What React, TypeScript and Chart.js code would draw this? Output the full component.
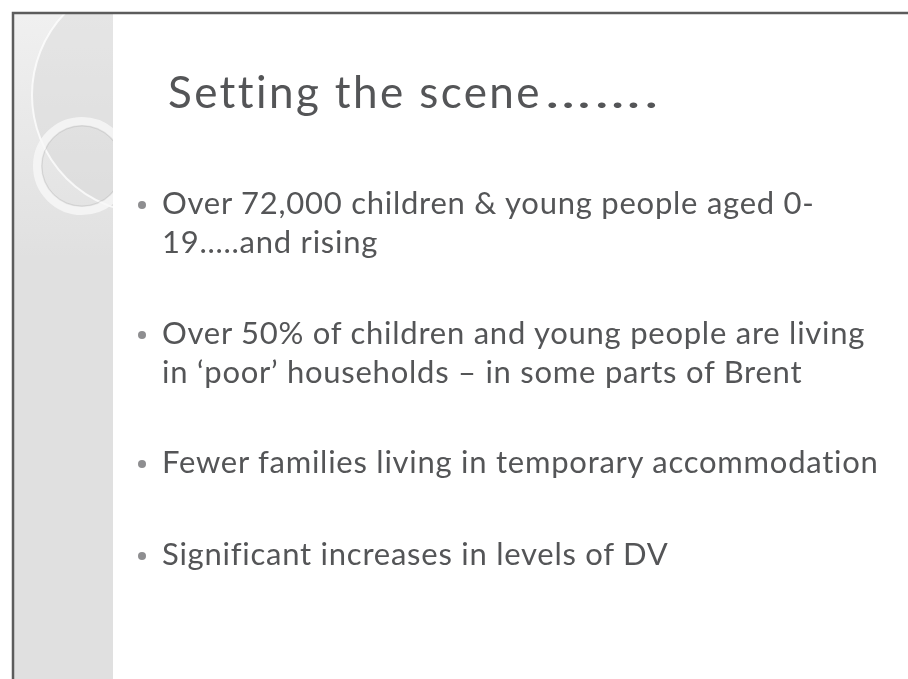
import React, { useEffect, useRef } from "react";
import { Chart, registerables } from "chart.js";

Chart.register(...registerables);

// ---- content ----
const titleMain = "Setting the scene";
const titleDots = "…….";
const bullet1 = ["Over 72,000 children & young people aged 0-", "19…..and rising"];
const bullet2 = ["Over 50% of children and young people are living", "in ‘poor’ households – in some parts of Brent"];
const bullet3 = ["Fewer families living in temporary accommodation"];
const bullet4 = ["Significant increases in levels of DV"];
const bullets = [bullet1, bullet2, bullet3, bullet4];

// ---- layout ----
const W = 908;
const H = 679;
const FONT = "Lato, 'Open Sans', sans-serif";
const TEXT_COLOR = "#545557";
const TITLE_FS = 44;
const TITLE_BASELINE = 108;
const TITLE_LEFT = 168;
const FS = 31;
const LH = 39;
const BULLET_BASELINES = [214, 344, 473, 565];
const TEXT_LEFT = 162;
const DOT_X = 142;

const baselineOffset = (lh: number, fs: number) => (lh - 1.2 * fs) / 2 + 0.987 * fs;

const slideBackground = {
  id: "slideBackground",
  beforeDraw(chart: any) {
    const ctx = chart.ctx as CanvasRenderingContext2D;
    ctx.save();
    ctx.fillStyle = "#ffffff";
    ctx.fillRect(0, 0, W, H);
    // left strip
    const sx = 14, sw = 99;
    ctx.fillStyle = "#e0e0e0";
    ctx.fillRect(sx, 13, sw, H - 13);
    ctx.save();
    ctx.beginPath();
    ctx.rect(sx, 13, sw, H - 13);
    ctx.clip();
    // lighter top area
    const g = ctx.createLinearGradient(0, 13, 0, 260);
    g.addColorStop(0, "rgba(242,242,242,0.9)");
    g.addColorStop(1, "rgba(242,242,242,0)");
    ctx.fillStyle = g;
    ctx.fillRect(sx, 13, sw, 250);
    // big faint circle
    ctx.beginPath();
    ctx.arc(150, 95, 118, 0, Math.PI * 2);
    ctx.fillStyle = "rgba(212,212,212,0.4)";
    ctx.fill();
    ctx.strokeStyle = "rgba(255,255,255,0.75)";
    ctx.lineWidth = 2;
    ctx.stroke();
    // ring
    ctx.beginPath();
    ctx.arc(82, 166, 45, 0, Math.PI * 2);
    ctx.strokeStyle = "rgba(248,248,248,0.8)";
    ctx.lineWidth = 8;
    ctx.stroke();
    ctx.beginPath();
    ctx.arc(82, 166, 40, 0, Math.PI * 2);
    ctx.strokeStyle = "rgba(190,190,190,0.5)";
    ctx.lineWidth = 1;
    ctx.stroke();
    ctx.restore();
    // border
    ctx.strokeStyle = "#5c5c5c";
    ctx.lineWidth = 2.5;
    ctx.beginPath();
    ctx.moveTo(13, H);
    ctx.lineTo(13, 13);
    ctx.lineTo(W, 13);
    ctx.stroke();
    ctx.restore();
  },
};

export default function App() {
  const canvasRef = useRef<HTMLCanvasElement | null>(null);

  useEffect(() => {
    document.body.style.margin = "0";
    const canvas = canvasRef.current;
    if (!canvas) return;
    const chart = new Chart(canvas, {
      type: "scatter",
      data: { datasets: [{ data: [] as any[] }] },
      options: {
        animation: false,
        responsive: false,
        events: [],
        layout: { padding: 0 },
        plugins: { legend: { display: false }, tooltip: { enabled: false } },
        scales: {
          x: { display: false, min: 0, max: W },
          y: { display: false, min: 0, max: H },
        },
      },
      plugins: [slideBackground],
    });
    return () => chart.destroy();
  }, []);

  const lineTop = (baseline: number) => baseline - baselineOffset(LH, FS);

  return (
    <div style={{ position: "fixed", left: 0, top: 0, width: W, height: H, overflow: "hidden", background: "#fff" }}>
      <canvas ref={canvasRef} width={W} height={H} style={{ position: "absolute", left: 0, top: 0, width: W, height: H }} />
      <div
        style={{
          position: "absolute",
          left: TITLE_LEFT,
          top: TITLE_BASELINE - baselineOffset(TITLE_FS * 1.2, TITLE_FS),
          fontFamily: FONT,
          fontSize: TITLE_FS,
          lineHeight: `${TITLE_FS * 1.2}px`,
          letterSpacing: "2.4px",
          color: TEXT_COLOR,
          whiteSpace: "nowrap",
        }}
      >
        {titleMain}
        <span style={{ display: "inline-block", transform: "scaleX(1.4)", transformOrigin: "left center", marginLeft: 3 }}>
          {titleDots}
        </span>
      </div>
      {bullets.map((lines, i) => (
        <React.Fragment key={i}>
          <div
            style={{
              position: "absolute",
              left: DOT_X - 4,
              top: BULLET_BASELINES[i] - 13,
              width: 8,
              height: 8,
              borderRadius: "50%",
              background: "#8e8e90",
            }}
          />
          <div
            style={{
              position: "absolute",
              left: TEXT_LEFT,
              top: lineTop(BULLET_BASELINES[i]),
              fontFamily: FONT,
              fontSize: FS,
              lineHeight: `${LH}px`,
              letterSpacing: "0.75px",
              color: TEXT_COLOR,
              whiteSpace: "nowrap",
            }}
          >
            {lines.map((l, j) => (
              <div key={j}>{l}</div>
            ))}
          </div>
        </React.Fragment>
      ))}
    </div>
  );
}
